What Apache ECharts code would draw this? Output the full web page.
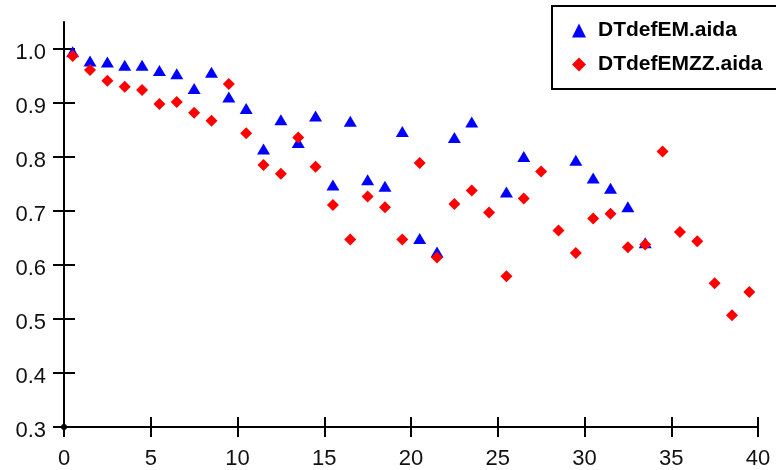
<!DOCTYPE html>
<html>
<head>
<meta charset="utf-8">
<script src="https://cdn.jsdelivr.net/npm/echarts@6/dist/echarts.min.js"></script>
<style>
  html, body { margin: 0; padding: 0; background: #fff; }
  #chart { width: 776px; height: 470px; }
</style>
</head>
<body>
<div id="chart"></div>
<script>
// bin centres along x
const binCenters = [0.5, 1.5, 2.5, 3.5, 4.5, 5.5, 6.5, 7.5, 8.5, 9.5,
  10.5, 11.5, 12.5, 13.5, 14.5, 15.5, 16.5, 17.5, 18.5, 19.5,
  20.5, 21.5, 22.5, 23.5, 24.5, 25.5, 26.5, 27.5, 28.5, 29.5,
  30.5, 31.5, 32.5, 33.5, 34.5, 35.5, 36.5, 37.5, 38.5, 39.5]
// DTdefEM.aida (null = no point in that bin)
const emValues = [0.995, 0.978, 0.976, 0.970, 0.970, 0.960, 0.954, 0.927, 0.957, 0.911,
  0.890, 0.815, 0.869, 0.827, 0.876, 0.748, 0.866, 0.758, 0.746, 0.847,
  0.649, 0.624, 0.836, 0.865, null, 0.735, 0.801, null, null, 0.794,
  0.761, 0.742, 0.708, 0.641, null, null, null, null, null, null]
// DTdefEMZZ.aida
const zzValues = [0.987, 0.961, 0.941, 0.930, 0.924, 0.898, 0.902, 0.882, 0.867, 0.935,
  0.844, 0.785, 0.769, 0.836, 0.782, 0.711, 0.647, 0.727, 0.707, 0.647,
  0.789, 0.614, 0.713, 0.738, 0.697, 0.579, 0.723, 0.773, 0.664, 0.622,
  0.686, 0.695, 0.633, 0.638, 0.810, 0.661, 0.644, 0.566, 0.507, 0.550]
const yTicks = [0.3, 0.4, 0.5, 0.6, 0.7, 0.8, 0.9, 1.0]
const seriesNames = ['DTdefEM.aida', 'DTdefEMZZ.aida']

function toPairs (values) {
  const out = []
  values.forEach((v, i) => {
    if (v !== null) out.push([binCenters[i], v])
  })
  return out
}

const chart = echarts.init(document.getElementById('chart'))

const gridBox = { left: 64, top: 22, right: 18, bottom: 43 }
const axisColor = '#000'
const fontName = 'Liberation Sans, Arial, sans-serif'
const labelFont = { color: '#111', fontSize: 22, fontFamily: fontName }

chart.setOption({
  animation: false,
  backgroundColor: '#fff',
  legend: {
    data: seriesNames,
    orient: 'vertical',
    left: 552,
    top: 6,
    padding: [14, 60, 14, 20],
    itemGap: 13,
    itemWidth: 14,
    itemHeight: 14,
    borderColor: '#000',
    borderWidth: 2,
    borderRadius: 0,
    textStyle: {
      color: '#000',
      fontSize: 21,
      fontWeight: 'bold',
      lineHeight: 20,
      padding: [0, 0, 0, 7],
      fontFamily: fontName
    }
  },
  grid: [
    Object.assign({ containLabel: false }, gridBox),
    Object.assign({ containLabel: false }, gridBox)
  ],
  xAxis: [{
    type: 'value',
    gridIndex: 0,
    min: 0,
    max: 40,
    interval: 5,
    axisLine: { onZero: false, lineStyle: { color: axisColor, width: 2 } },
    axisTick: { inside: false, length: 10, lineStyle: { color: axisColor, width: 2 } },
    axisLabel: Object.assign({ margin: 21 }, labelFont),
    splitLine: { show: false }
  }, {
    // inner half of the ticks
    type: 'value',
    gridIndex: 1,
    min: 0,
    max: 40,
    interval: 5,
    axisLine: { show: false },
    axisTick: { inside: true, length: 10, lineStyle: { color: axisColor, width: 2 } },
    axisLabel: { show: false },
    splitLine: { show: false }
  }],
  yAxis: [{
    type: 'value',
    gridIndex: 0,
    min: 0.3,
    max: 1.05,
    interval: 0.1,
    axisLine: { show: true, onZero: false, lineStyle: { color: axisColor, width: 2 } },
    axisTick: {
      show: true,
      inside: false,
      length: 11,
      customValues: yTicks,
      lineStyle: { color: axisColor, width: 2 }
    },
    axisLabel: Object.assign({
      margin: 18,
      customValues: yTicks,
      // labels sit a few px below their tick in the original
      formatter: (v) => '{t|' + v.toFixed(1) + '}',
      rich: {
        t: { fontSize: 22, fontFamily: fontName, color: '#111', padding: [7, 0, 0, 0] }
      }
    }, labelFont),
    splitLine: { show: false }
  }, {
    type: 'value',
    gridIndex: 1,
    min: 0.3,
    max: 1.05,
    interval: 0.1,
    axisLine: { show: false },
    axisTick: {
      show: true,
      inside: true,
      length: 11,
      customValues: yTicks,
      lineStyle: { color: axisColor, width: 2 }
    },
    axisLabel: { show: false },
    splitLine: { show: false }
  }],
  series: [{
    name: seriesNames[0],
    type: 'scatter',
    xAxisIndex: 0,
    yAxisIndex: 0,
    symbol: 'triangle',
    symbolSize: [13, 11],
    itemStyle: { color: '#0000ff', opacity: 1 },
    data: toPairs(emValues)
  }, {
    name: seriesNames[1],
    type: 'scatter',
    xAxisIndex: 0,
    yAxisIndex: 0,
    symbol: 'diamond',
    symbolSize: 12,
    itemStyle: { color: '#ff0000', opacity: 1 },
    data: toPairs(zzValues)
  }, {
    // little dot sitting on the origin
    name: 'origin',
    type: 'scatter',
    xAxisIndex: 0,
    yAxisIndex: 0,
    symbol: 'circle',
    symbolSize: 6,
    z: 5,
    itemStyle: { color: '#000', opacity: 1 },
    data: [[0, 0.3]]
  }]
})
</script>
</body>
</html>
